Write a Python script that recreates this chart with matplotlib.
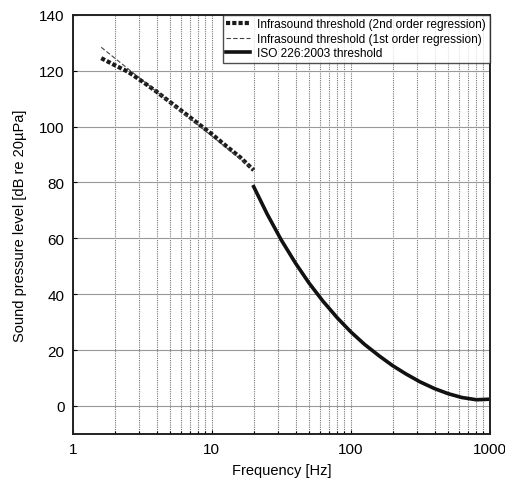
import numpy as np
import matplotlib
matplotlib.use("Agg")
import matplotlib.pyplot as plt
from matplotlib.ticker import FixedLocator, FixedFormatter, LogLocator, NullFormatter

plt.rcParams['font.family'] = ['Liberation Sans', 'DejaVu Sans']

# infrasound threshold, 2nd order regression
f_inf2 = [1.6, 2.0, 2.5, 3.15, 4.0, 5.0, 6.3, 8.0, 10.0, 12.5, 16.0, 20.0]
spl_inf2 = [124.5, 122.0, 119.6, 116.2, 112.5, 108.8, 105.0, 101.0, 97.3, 93.3, 89.0, 84.4]

# infrasound threshold, 1st order regression
f_inf1 = [1.6, 20.0]
spl_inf1 = [128.4, 84.6]

# ISO 226:2003 hearing threshold
f_iso = [20, 25, 31.5, 40, 50, 63, 80, 100, 125, 160, 200, 250, 315, 400, 500, 630, 800, 1000]
spl_iso = [78.5, 68.7, 59.5, 51.1, 44.0, 37.5, 31.5, 26.5, 22.1, 17.9, 14.4, 11.4, 8.6, 6.2, 4.4, 3.0, 2.2, 2.4]

xticks = [1, 10, 100, 1000]
xticklabels = ['1', '10', '100', '1000']
yticks = [0, 20, 40, 60, 80, 100, 120, 140]

fig = plt.figure(figsize=(5.06, 4.81), dpi=100)
ax = fig.add_axes([0.144, 0.096, 0.824, 0.871])

ax.plot(f_inf2, spl_inf2, color='#1a1a1a', linestyle=(0, (1, 0.5)), linewidth=3.0,
        label='Infrasound threshold (2nd order regression)')
ax.plot(f_inf1, spl_inf1, color='#444444', linestyle=(0, (4, 2)), linewidth=0.8,
        label='Infrasound threshold (1st order regression)')
ax.plot(f_iso, spl_iso, color='#111111', linestyle='-', linewidth=2.6,
        label='ISO 226:2003 threshold')

ax.set_xscale('log')
ax.set_xlim(1, 1000)
ax.set_ylim(-10, 140)

ax.xaxis.set_major_locator(FixedLocator(xticks))
ax.xaxis.set_major_formatter(FixedFormatter(xticklabels))
ax.xaxis.set_minor_locator(LogLocator(base=10, subs=np.arange(2, 10)))
ax.xaxis.set_minor_formatter(NullFormatter())
ax.set_yticks(yticks)

ax.grid(True, which='major', axis='x', color='#777777', linestyle=(0, (1, 1)), linewidth=0.8)
ax.grid(True, which='minor', axis='x', color='#777777', linestyle=(0, (1, 1)), linewidth=0.8)
ax.grid(True, which='major', axis='y', color='#999999', linestyle='-', linewidth=0.8)

ax.tick_params(which='both', direction='in', labelsize=11, length=3, width=0.8,
               top=False, right=False, pad=6)
ax.tick_params(which='minor', length=2)

for s in ax.spines.values():
    s.set_linewidth(1.4)
    s.set_color('#222222')

ax.set_xlabel('Frequency [Hz]', fontsize=10.5, labelpad=5)
ax.set_ylabel('Sound pressure level [dB re 20µPa]', fontsize=10.5, labelpad=9)

leg = ax.legend(loc='upper right', fontsize=8.6, frameon=True, fancybox=False,
                handlelength=2.0, borderpad=0.3, labelspacing=0.2, handletextpad=0.6,
                borderaxespad=0.0)
leg.get_frame().set_edgecolor('#222222')
leg.get_frame().set_linewidth(1.0)

fig.savefig('out.png', dpi=100)
